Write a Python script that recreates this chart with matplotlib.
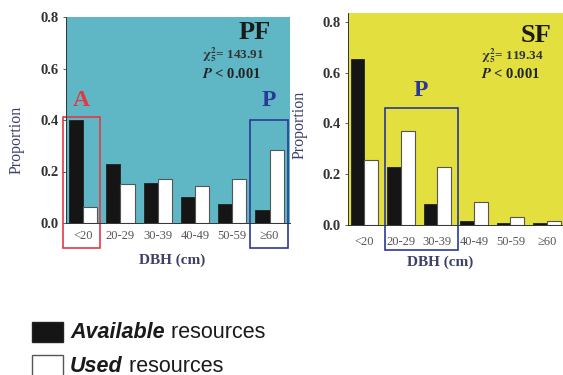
import matplotlib.pyplot as plt
import numpy as np
from matplotlib.patches import Rectangle

"""Data"""
dbh_classes = ['<20', '20-29', '30-39', '40-49', '50-59', '≥60']
pf_available = [0.40, 0.23, 0.155, 0.10, 0.072, 0.049]
pf_used = [0.062, 0.15, 0.172, 0.144, 0.172, 0.285]
sf_available = [0.655, 0.23, 0.083, 0.017, 0.008, 0.006]
sf_used = [0.257, 0.37, 0.23, 0.092, 0.03, 0.017]
pf_stats = [r'$\chi^{2}_{5}$= 143.91', r'$\mathbfit{P}$ < 0.001']
sf_stats = [r'$\chi^{2}_{5}$= 119.34', r'$\mathbfit{P}$ < 0.001']

"""Style"""
plt.rcParams['font.family'] = ['Liberation Serif', 'DejaVu Serif']
plt.rcParams['mathtext.fontset'] = 'stix'
plt.rcParams['mathtext.default'] = 'bf'
blue_bg = '#5fb7c5'
yellow_bg = '#e2df3e'
box_blue = '#2c3896'
box_red = '#e23a44'
txt_dark = '#333333'
lab_col = '#3d4068'


def panel(ax, avail, used, bg, ylim, tag, stats, tickpad):
    x = np.arange(len(dbh_classes))
    w = 0.38
    ax.set_facecolor(bg)
    ax.bar(x - w / 2, avail, w, color='#151515', edgecolor='#222222', linewidth=0.6)
    ax.bar(x + w / 2, used, w, color='white', edgecolor='#555555', linewidth=0.8)
    ax.set_xlim(-0.46, 5.55)
    ax.set_ylim(*ylim)
    ax.set_xticks(x)
    ax.set_xticklabels(dbh_classes, fontsize=9, color='#555555')
    ax.set_yticks([0.0, 0.2, 0.4, 0.6, 0.8])
    ax.set_yticklabels(['0.0', '0.2', '0.4', '0.6', '0.8'], fontsize=10.5,
                       fontweight='bold', color=txt_dark)
    ax.tick_params(axis='x', length=0, pad=tickpad)
    ax.tick_params(axis='y', length=2, width=0.6, color='#444444')
    for s in ['top', 'right']:
        ax.spines[s].set_visible(False)
    for s in ['left', 'bottom']:
        ax.spines[s].set_color('#333333')
        ax.spines[s].set_linewidth(0.7)
    ax.set_ylabel('Proportion', fontsize=11.5, color=lab_col)
    ax.yaxis.label.set_va('center')
    ax.set_xlabel('DBH (cm)', fontsize=11, fontweight='bold', color=lab_col)
    ax.xaxis.label.set_va('center')
    ax.text(tag[1], tag[2], tag[0], transform=ax.transAxes, ha='right', va='center',
            fontsize=19, fontweight='bold', color='#1a1a1a')
    ax.text(0.607, stats[2], stats[0], transform=ax.transAxes, ha='left', va='center',
            fontsize=9.5, fontweight='bold', color='#333333')
    ax.text(0.607, stats[3], stats[1], transform=ax.transAxes, ha='left', va='center',
            fontsize=10.5, fontweight='bold', color='#222222')


fig = plt.figure(figsize=(5.63, 3.75), dpi=100)

"""PF panel"""
ax1 = fig.add_axes([66 / 563, 152 / 375, 224 / 563, 206 / 375])
panel(ax1, pf_available, pf_used, blue_bg, (0, 0.8), ('PF', 0.915, 0.927),
      (pf_stats[0], pf_stats[1], 0.815, 0.722), 5)
ax1.yaxis.set_label_coords(-0.22, 0.403)
ax1.xaxis.set_label_coords(0.473, -0.18)
ax1.add_patch(Rectangle((-0.54, -0.097), 1.0, 0.507, fill=False, edgecolor=box_red,
                        linewidth=1.2, clip_on=False))
ax1.add_patch(Rectangle((4.49, -0.097), 1.0, 0.497, fill=False, edgecolor=box_blue,
                        linewidth=1.2, clip_on=False))
ax1.text(-0.04, 0.475, 'A', ha='center', va='center', fontsize=17, fontweight='bold',
         color=box_red, clip_on=False)
ax1.text(4.99, 0.475, 'P', ha='center', va='center', fontsize=17, fontweight='bold',
         color=box_blue, clip_on=False)

"""SF panel"""
ax2 = fig.add_axes([348 / 563, 150 / 375, 219 / 563, 212 / 375])
panel(ax2, sf_available, sf_used, yellow_bg, (0, 0.835), ('SF', 0.93, 0.896),
      (sf_stats[0], sf_stats[1], 0.80, 0.71), 8)
ax2.set_xlim(-0.45, 5.55)
ax2.yaxis.set_label_coords(-0.22, 0.472)
ax2.xaxis.set_label_coords(0.42, -0.175)
ax2.add_patch(Rectangle((0.56, -0.098), 2.0, 0.559, fill=False, edgecolor=box_blue,
                        linewidth=1.2, clip_on=False))
ax2.text(1.55, 0.53, 'P', ha='center', va='center', fontsize=17, fontweight='bold',
         color=box_blue, clip_on=False)

"""Legend"""
fig.patches.append(Rectangle((32 / 563, 33 / 375), 31 / 563, 20 / 375, facecolor='#151515',
                             edgecolor='#222222', transform=fig.transFigure))
fig.patches.append(Rectangle((32 / 563, -2 / 375), 31 / 563, 22 / 375, facecolor='white',
                             edgecolor='#555555', linewidth=1.0, transform=fig.transFigure))
t1 = fig.text(70 / 563, 43 / 375, 'Available', fontsize=15.5, fontweight='bold',
              style='italic', family='Liberation Sans', va='center', color='#1a1a1a')
ax1.annotate(' resources', xy=(1, 0), xycoords=t1, va='bottom', fontsize=15.5,
             family='Liberation Sans', color='#1a1a1a', annotation_clip=False)
t2 = fig.text(70 / 563, 9 / 375, 'Used', fontsize=15.5, fontweight='bold',
              style='italic', family='Liberation Sans', va='center', color='#1a1a1a')
ax1.annotate(' resources', xy=(1, 0), xycoords=t2, va='bottom', fontsize=15.5,
             family='Liberation Sans', color='#1a1a1a', annotation_clip=False)

fig.savefig('out.png', dpi=100)
